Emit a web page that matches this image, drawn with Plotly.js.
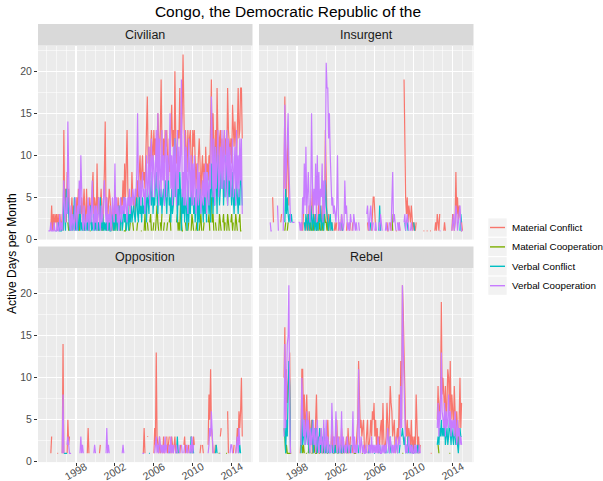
<!DOCTYPE html>
<html><head><meta charset="utf-8">
<script src="https://cdn.plot.ly/plotly-3.0.1.min.js"></script>
<style>html,body{margin:0;padding:0;background:#fff}#chart{width:603px;height:481px}</style>
</head><body><div id="chart"></div>
<script>
const _ = null;
const chartTitle = 'Congo, the Democratic Republic of the';
const yAxisTitle = 'Active Days per Month';
const seriesNames = ['Material Conflict', 'Material Cooperation', 'Verbal Conflict', 'Verbal Cooperation'];
const seriesColors = ['#F8766D', '#7CAE00', '#00BFC4', '#C77CFF'];
const panelNames = ['Civilian', 'Insurgent', 'Opposition', 'Rebel'];
const tickYears = [1998, 2002, 2006, 2010, 2014];
const yTicks = [0, 5, 10, 15, 20];
const firstYear = 1995; // one row per year, Jan..Dec; last row = Jan, Feb 2015

// ---------- Civilian ----------
const civilianMatConflict = [
[_,_,_,_,_,1,4,1,3,1,3,2],
[3,1,3,1,3,2,1,3,1,13,3,6],
[2,8,4,6,2,1,3,5,2,4,1,3],
[2,5,3,6,1,4,3,5,2,4,6,3],
[2,6,3,4,1,5,3,4,6,8,3,5],
[4,2,9,3,5,2,4,6,3,1,5,8],
[14,3,5,2,4,6,5,3,1,4,1,3],
[5,2,4,3,5,2,4,3,5,4,7,3],
[9,5,11,13,6,4,5,3,4,8,5,4],
[5,3,6,4,7,5,8,10,6,9,10,7],
[8,6,10,13,17,9,11,8,12,13,11,9],
[13,10,12,9,11,15,12,9,13,19,11,8],
[12,9,13,11,13,10,6,12,8,13,16,11],
[13,10,20,12,9,11,13,12,18,10,13,15],
[22,12,9,13,11,8,13,10,12,13,9,7],
[13,11,13,8,6,9,7,10,12,9,5,8],
[10,6,9,4,11,8,9,7,10,8,12,19],
[9,15,11,8,13,9,18,10,7,12,13,9],
[12,8,11,13,10,12,9,18,13,11,10,12],
[9,16,13,11,14,12,10,13,18,12,13,18],
[18,12]];
const civilianMatCoop = [
[_,_,_,_,_,_,_,_,_,_,_,_],
[_,_,_,_,_,_,_,_,_,_,_,_],
[_,_,2,1,_,_,_,_,_,_,_,_],
[_,_,_,_,1,2,_,_,_,2,1,_],
[_,_,_,_,_,1,1,_,_,_,_,_],
[_,_,_,2,1,_,_,_,1,2,_,_],
[_,_,1,2,_,2,1,_,_,_,_,_],
[1,2,3,1,_,_,2,1,_,_,_,1],
[1,1,2,_,_,_,1,2,_,_,2,1],
[_,_,_,1,2,_,_,_,1,1,_,_],
[1,3,1,_,2,1,_,2,3,1,_,1],
[2,_,1,3,4,2,1,_,2,1,3,_],
[1,2,_,_,1,2,_,2,3,1,_,_],
[_,1,_,_,2,3,1,2,1,5,2,1],
[1,_,_,2,1,_,1,2,_,_,1,3],
[2,1,_,_,1,2,1,_,1,2,3,1],
[_,1,2,_,1,_,_,2,3,1,_,5],
[2,3,1,_,2,1,_,_,1,3,2,1],
[_,2,3,1,2,_,1,3,2,1,_,2],
[3,1,2,_,1,3,2,1,_,2,3,1],
[1,_]];
const civilianVerbConflict = [
[_,_,_,_,_,_,_,_,1,_,_,1],
[1,_,1,2,1,1,1,2,1,5,2,1],
[6,3,5,2,1,2,1,3,1,2,5,1],
[2,1,3,1,2,4,1,2,1,3,1,2],
[1,2,1,3,1,2,4,1,2,1,3,1],
[2,1,3,1,2,1,5,2,1,3,1,2],
[1,2,1,3,1,2,1,1,2,3,1,2],
[1,3,2,1,2,4,1,2,3,1,2,5],
[2,3,1,2,4,1,3,2,5,2,3,4],
[3,2,4,5,3,2,6,3,4,2,5,3],
[4,3,5,2,6,4,3,7,5,4,8,3],
[5,4,6,8,5,3,7,5,4,6,3,5],
[6,4,7,5,3,6,8,4,5,2,6,3],
[4,6,12,5,7,2,6,4,8,5,1,6],
[3,5,2,6,4,1,7,2,5,3,6,4],
[6,3,5,2,4,6,1,5,2,6,3,5],
[4,2,6,3,5,2,8,4,3,6,2,9],
[5,3,7,4,11,8,3,10,7,4,6,9],
[6,9,4,7,5,10,6,4,8,5,7,6],
[4,8,5,3,6,4,7,5,3,6,4,9],
[5,4]];
const civilianVerbCoop = [
[_,_,1,1,1,2,1,1,1,2,1,1],
[1,2,1,1,3,1,2,1,4,7,3,2],
[5,3,14,6,2,1,4,1,3,2,1,5],
[2,1,4,3,7,3,10,5,2,1,4,2],
[1,3,2,5,1,4,2,3,7,2,1,4],
[2,4,1,3,5,2,1,4,2,3,5,7],
[4,2,5,1,3,2,4,1,2,5,3,2],
[9,3,5,2,4,1,3,5,2,4,3,5],
[3,5,4,2,5,4,6,3,5,4,6,5],
[4,6,5,8,15,6,5,7,4,6,8,5],
[6,3,8,10,5,6,11,4,9,12,5,10],
[9,5,8,13,6,15,4,12,8,5,13,7],
[10,4,11,13,5,10,7,9,15,6,10,4],
[11,5,12,7,4,13,6,11,8,10,19,5],
[8,4,13,4,11,7,3,12,6,5,10,4],
[9,4,10,6,3,5,9,4,8,6,3,5],
[7,4,8,5,9,3,8,6,4,9,6,17],
[10,5,12,4,11,6,9,13,5,8,11,6],
[13,6,12,13,5,9,13,4,12,7,11,5],
[8,12,5,9,11,4,13,6,10,5,12,7],
[12,3]];

// ---------- Insurgent ----------
const insurgentMatConflict = [
[_,_,_,_,_,_,5,2,_,_,_,_],
[_,_,_,_,2,3,_,_,6,17,8,5],
[10,12,4,_,1,_,_,_,_,_,_,_],
[_,_,_,_,_,1,2,1,3,_,2,1],
[2,3,1,4,_,2,3,6,2,1,3,2],
[3,1,2,5,3,_,2,4,1,2,3,13],
[4,2,1,3,2,1,_,2,1,_,1,2],
[1,2,_,1,2,_,1,3,1,_,2,_],
[_,1,2,_,_,1,2,_,1,2,_,_],
[_,_,_,_,_,_,_,_,_,_,_,_],
[_,_,_,2,1,_,2,_,1,3,5,5],
[2,1,_,2,_,_,_,_,_,1,_,_],
[_,_,_,2,1,1,_,2,1,_,_,_],
[_,_,1,1,_,_,2,1,_,_,2,_],
[19,6,5,3,5,2,4,3,2,4,2,1],
[2,1,1,2,_,1,_,_,1,_,_,_],
[1,1,_,_,1,1,_,_,1,1,_,_],
[_,_,1,2,1,3,2,1,3,_,_,_],
[_,1,2,1,_,_,_,_,_,_,_,1],
[3,2,1,2,8,3,5,2,4,3,2,2],
[1,_]];
const insurgentMatCoop = [
[_,_,_,_,_,_,_,_,_,_,_,_],
[_,_,_,_,_,_,_,_,_,1,2,_],
[1,2,_,_,_,_,_,_,_,_,_,_],
[_,_,_,_,_,_,_,_,_,_,_,_],
[_,_,_,_,1,2,1,_,1,2,_,_],
[1,2,_,1,2,1,_,2,1,2,3,2],
[2,1,2,1,_,_,_,_,_,_,_,_],
[_,_,_,_,_,_,_,_,_,_,_,_],
[_,_,_,_,_,_,_,_,_,_,_,_],
[_,_,_,_,_,_,_,_,_,_,_,_],
[_,_,_,_,_,_,_,_,_,_,_,_],
[_,_,_,_,_,_,_,_,_,_,_,_],
[_,_,_,_,_,_,_,_,_,3,1,_],
[_,_,_,_,_,_,_,_,_,_,_,_],
[_,_,_,_,_,_,_,_,_,_,_,_],
[_,_,_,_,_,_,_,_,_,_,_,_],
[_,_,_,_,_,_,_,_,_,_,_,_],
[_,_,_,_,_,_,_,_,_,_,_,_],
[_,_,_,_,_,_,_,_,_,_,_,_],
[_,_,_,_,_,_,_,_,_,_,1,1],
[_,_]];
const insurgentVerbConflict = [
[_,_,_,_,_,_,_,_,_,_,_,_],
[_,_,_,_,_,_,_,1,_,2,6,3],
[5,3,2,3,2,3,2,_,_,_,_,_],
[_,_,_,_,_,_,_,1,_,2,1,3],
[2,1,3,2,1,4,2,1,3,2,1,3],
[1,2,1,3,2,4,1,2,3,1,5,7],
[4,3,2,1,2,3,1,2,1,_,_,1],
[_,1,_,_,1,_,_,2,1,_,_,_],
[_,_,1,_,_,_,1,_,_,_,_,_],
[_,_,_,_,_,_,_,_,_,_,_,_],
[_,_,_,_,_,_,1,2,_,_,_,_],
[_,_,_,_,_,1,4,1,_,_,_,_],
[_,_,_,_,_,_,_,_,_,_,_,_],
[_,_,_,_,_,_,_,_,1,_,_,_],
[_,2,1,_,2,1,_,1,_,_,2,_],
[2,1,_,_,_,_,_,_,_,_,_,_],
[_,_,_,_,_,_,_,_,_,_,_,_],
[_,_,_,_,_,_,_,_,_,_,_,_],
[_,_,_,_,_,_,_,_,_,_,_,_],
[_,_,_,_,_,1,_,2,_,1,3,2],
[_,_]];
const insurgentVerbCoop = [
[_,_,_,2,1,1,_,_,_,_,_,_],
[4,1,_,_,_,_,_,1,8,16,6,10],
[14,15,9,3,2,_,2,2,2,2,_,_],
[_,_,2,2,1,2,1,5,3,9,4,11],
[3,6,8,4,2,5,15,7,3,6,4,9],
[2,10,4,8,3,6,5,9,2,7,3,9],
[21,18,18,12,15,10,6,4,5,3,4,3],
[2,4,10,3,1,2,1,3,2,1,2,7],
[3,4,2,1,2,1,3,2,_,1,3,2],
[1,2,1,_,2,1,_,_,_,_,_,_],
[_,_,3,4,2,1,3,4,2,1,2,_],
[1,2,1,_,_,2,1,3,2,1,_,_],
[_,1,2,1,_,1,2,_,1,4,8,2],
[3,2,1,_,2,1,2,1,_,1,_,_],
[2,3,1,2,3,2,1,_,1,2,1,_],
[1,_,1,_,_,_,_,_,_,_,_,_],
[_,_,_,_,_,_,_,_,_,_,_,_],
[_,_,_,_,_,_,_,_,1,1,_,_],
[_,_,_,_,_,_,_,_,_,_,_,1],
[2,3,1,2,4,3,1,2,3,4,2,1],
[1,_]];

// ---------- Opposition ----------
const oppositionMatConflict = [
[_,_,_,_,_,1,3,_,_,_,_,_],
[_,1,1,_,_,_,_,1,14,1,_,_],
[_,1,5,2,3,_,_,_,_,_,_,_],
[_,_,_,_,_,_,_,_,_,_,_,_],
[_,_,1,4,1,_,_,_,_,_,_,_],
[_,_,_,_,_,1,2,_,_,_,_,_],
[_,_,_,_,_,_,_,_,_,_,_,_],
[_,_,_,_,_,_,_,_,_,_,_,_],
[_,_,_,_,_,_,_,_,_,_,_,_],
[_,_,_,_,_,_,_,_,_,_,_,1],
[4,1,_,_,3,3,_,_,_,_,_,_],
[1,4,2,13,3,2,1,3,1,2,_,1],
[3,1,2,_,3,1,2,3,_,1,3,2],
[1,2,3,1,_,2,1,_,1,2,_,_],
[_,2,3,1,2,_,1,2,_,_,3,2],
[1,3,2,_,2,_,_,_,_,1,2,_],
[2,1,_,_,_,_,_,2,8,5,11,4],
[3,1,_,1,2,_,_,_,1,_,3,4],
[_,_,_,_,_,1,_,6,1,_,_,_],
[1,_,1,2,_,1,2,4,2,6,4,6],
[10,3]];
const oppositionMatCoop = [
[_,_,_,_,_,_,_,_,_,_,_,_],
[_,_,_,_,_,_,_,_,_,_,_,_],
[_,_,_,_,_,_,_,_,_,_,_,_],
[_,_,_,_,_,_,_,_,_,_,_,_],
[_,_,_,_,_,_,_,_,_,_,_,_],
[_,_,_,_,_,_,_,_,_,_,_,_],
[_,_,_,_,_,_,_,_,_,_,_,_],
[_,_,_,_,_,_,_,_,_,_,_,_],
[_,_,_,_,_,_,_,_,_,_,_,_],
[_,_,_,_,_,_,_,_,_,_,_,_],
[_,_,_,_,_,_,_,_,_,_,_,_],
[_,_,_,_,_,_,_,_,_,_,_,_],
[_,_,_,_,_,_,_,_,_,_,_,_],
[_,_,_,_,_,_,_,_,_,_,_,_],
[_,_,_,_,_,_,_,_,_,_,_,_],
[_,_,_,_,_,_,_,_,_,_,_,_],
[_,_,_,_,_,_,_,_,_,_,_,_],
[_,_,_,_,_,_,_,_,1,1,_,_],
[_,_,_,_,_,1,1,_,_,_,_,_],
[_,_,_,_,_,_,_,_,_,_,_,_],
[_,_]];
const oppositionVerbConflict = [
[_,_,_,_,_,_,_,_,_,_,_,_],
[_,_,_,_,_,_,_,_,_,1,1,1],
[1,1,_,_,_,_,_,_,_,_,_,_],
[_,_,_,_,_,_,_,_,_,_,_,_],
[_,_,_,_,_,_,_,_,_,_,_,_],
[_,_,_,_,_,_,_,_,_,_,_,_],
[_,_,_,_,_,_,_,_,_,_,_,_],
[_,_,_,_,_,_,_,_,_,_,_,_],
[_,_,_,_,_,_,_,_,_,_,_,_],
[_,_,_,_,_,_,_,_,_,_,_,_],
[_,_,_,_,_,_,1,1,_,_,_,_],
[_,_,_,_,_,_,_,_,_,_,_,_],
[_,_,_,_,_,_,_,1,2,_,_,_],
[_,_,_,_,1,3,1,_,_,_,_,_],
[_,_,_,_,_,_,_,_,_,1,3,1],
[2,1,_,_,_,_,_,_,_,_,_,_],
[_,_,_,_,_,_,_,_,_,_,_,_],
[_,_,_,_,1,2,1,_,_,_,_,_],
[_,_,_,_,_,_,_,_,_,_,_,_],
[_,_,_,_,_,_,_,_,_,1,2,1],
[_,_]];
const oppositionVerbCoop = [
[_,_,_,_,_,_,_,_,_,_,_,_],
[_,_,_,_,_,_,_,1,8,1,_,_],
[_,2,3,2,1,1,1,_,_,_,_,_],
[_,_,_,_,_,1,3,1,2,1,_,_],
[_,_,_,_,_,_,_,_,_,_,1,2],
[1,_,_,_,_,_,_,_,_,_,_,_],
[_,1,4,1,2,1,_,_,_,_,_,_],
[_,_,_,_,_,_,_,_,_,1,2,1],
[_,_,_,_,_,_,_,_,_,_,_,_],
[_,_,_,_,_,_,_,_,_,_,1,1],
[1,_,_,_,_,_,_,_,_,_,_,_],
[_,1,2,3,1,2,1,3,2,1,2,1],
[2,1,3,1,2,_,1,2,1,3,1,2],
[1,2,_,1,2,1,_,2,1,_,2,1],
[_,1,2,_,1,2,1,_,1,2,1,3],
[1,2,_,_,1,_,_,_,_,_,1,_],
[_,_,_,_,_,_,_,1,2,4,3,6],
[2,1,_,1,_,_,_,_,_,1,1,_],
[_,_,_,_,_,_,_,_,_,_,1,2],
[2,1,_,_,_,1,2,3,1,4,2,_],
[_,_]];

// ---------- Rebel ----------
const rebelMatConflict = [
[_,_,_,_,_,_,_,_,_,_,_,_],
[_,_,_,_,_,_,_,_,10,16,4,11],
[7,10,12,13,1,1,_,_,_,_,_,_],
[_,_,_,_,1,3,11,11,5,8,3,7],
[8,4,2,6,3,2,5,1,3,4,2,5],
[8,3,2,1,4,2,3,1,2,3,1,_],
[1,3,5,2,1,_,2,4,1,3,1,2],
[1,5,2,1,3,_,1,4,2,1,2,1],
[2,3,1,4,2,1,3,_,2,1,_,1],
[1,2,3,5,12,6,4,5,3,4,5,2],
[1,2,4,5,1,2,3,5,3,6,5,7],
[3,5,2,4,1,3,2,4,5,2,7,3],
[1,2,3,7,4,2,5,9,7,6,3,4],
[5,1,2,3,4,2,8,4,12,5,21,18],
[13,5,4,3,5,2,4,3,2,5,1,3],
[1,3,2,8,5,1,3,1,2,_,_,_],
[_,_,_,_,_,_,_,_,_,1,1,_],
[_,_,_,_,_,5,9,5,7,8,19,8],
[10,8,6,9,5,7,11,10,6,12,5,8],
[6,4,9,5,3,6,4,2,5,10,4,7],
[_,_]];
const rebelMatCoop = [
[_,_,_,_,_,_,_,_,_,_,_,_],
[_,_,_,_,_,_,_,_,4,3,1,2],
[1,1,1,1,1,_,_,_,_,_,_,_],
[_,_,_,_,_,_,2,1,2,1,_,1],
[1,_,1,2,1,_,1,1,_,1,2,1],
[1,2,_,1,1,_,_,1,2,1,_,_],
[_,1,1,_,_,_,_,_,_,1,1,_],
[_,_,1,1,_,_,_,1,1,_,_,_],
[_,1,2,1,_,_,_,_,_,_,1,1],
[1,1,_,_,_,_,_,_,1,1,_,_],
[_,_,_,_,_,_,_,_,_,_,_,_],
[_,_,_,_,_,_,_,_,_,_,_,_],
[_,_,_,_,_,_,_,_,_,_,_,_],
[_,_,_,_,_,_,_,_,_,_,1,1],
[_,_,_,_,_,_,_,_,_,_,_,_],
[_,_,_,_,_,_,_,_,_,_,_,_],
[_,_,_,_,_,_,_,_,_,_,_,_],
[_,_,_,_,_,_,2,1,_,_,_,_],
[_,_,_,_,_,_,_,_,1,1,_,_],
[_,_,_,_,_,_,_,_,_,_,_,_],
[_,_]];
const rebelVerbConflict = [
[_,_,_,_,_,_,_,_,_,_,_,_],
[_,_,_,_,_,_,_,_,_,4,1,5],
[3,8,12,9,1,_,_,_,_,_,_,_],
[_,_,_,_,_,1,6,2,3,5,2,4],
[3,2,4,1,3,4,2,5,1,3,4,2],
[4,1,3,2,4,1,2,3,1,4,2,1],
[2,1,_,1,2,1,_,2,1,_,1,2],
[1,_,2,1,_,1,2,1,_,2,1,_],
[1,_,2,1,_,_,1,2,_,1,_,1],
[_,1,_,2,1,_,1,_,1,_,_,1],
[_,1,_,_,1,2,1,_,_,1,_,1],
[1,_,1,_,_,1,2,1,_,_,1,_],
[_,1,2,1,_,2,1,3,1,_,1,_],
[_,1,_,2,1,_,1,2,_,3,4,3],
[2,3,1,2,1,3,1,2,1,2,1,_],
[1,2,1,_,1,2,1,_,_,_,_,_],
[_,_,_,_,_,_,_,_,_,_,_,_],
[_,_,_,_,_,2,3,2,4,3,5,3],
[4,3,5,2,3,4,2,3,5,3,2,4],
[3,2,4,3,2,3,2,1,3,4,3,3],
[_,_]];
const rebelVerbCoop = [
[_,_,_,_,_,_,_,_,_,_,_,_],
[_,_,_,_,_,_,_,_,3,14,4,11],
[14,15,21,6,1,_,_,_,_,_,_,_],
[_,_,_,_,_,2,10,6,3,5,2,4],
[6,2,5,3,1,4,2,3,5,2,4,1],
[3,5,2,1,3,2,4,1,2,5,1,2],
[5,1,3,2,1,2,1,7,2,1,3,2],
[6,2,1,3,2,1,2,6,1,3,2,1],
[2,1,3,2,1,2,_,1,2,6,1,3],
[1,2,1,3,11,2,1,3,2,1,2,1],
[1,2,1,_,2,1,2,1,3,1,2,1],
[2,1,2,1,3,1,2,1,1,2,1,2],
[1,2,1,3,4,2,1,3,2,1,2,1],
[2,1,3,2,1,2,3,2,9,4,21,14],
[8,2,1,2,1,2,3,1,2,1,2,1],
[1,2,1,2,1,_,1,2,1,_,_,_],
[_,_,_,_,_,_,_,_,_,_,_,_],
[_,_,_,_,_,4,7,3,6,5,13,6],
[5,4,7,3,6,4,5,8,4,6,3,5],
[4,5,3,6,4,2,5,3,4,2,3,2],
[_,_]];

const panelData = [
  [civilianMatConflict, civilianMatCoop, civilianVerbConflict, civilianVerbCoop],
  [insurgentMatConflict, insurgentMatCoop, insurgentVerbConflict, insurgentVerbCoop],
  [oppositionMatConflict, oppositionMatCoop, oppositionVerbConflict, oppositionVerbCoop],
  [rebelMatConflict, rebelMatCoop, rebelVerbConflict, rebelVerbCoop]
];

// ---------- build ----------
function flatten(rows) {
  const out = [];
  rows.forEach((r, yi) => {
    const n = (yi === rows.length - 1) ? r.length : 12;
    for (let k = 0; k < n; k++) out.push(r[k] === undefined ? null : r[k]);
  });
  return out;
}
function monthDates(count) {
  const d = [];
  for (let i = 0; i < count; i++) {
    const y = firstYear + Math.floor(i / 12), m = (i % 12) + 1;
    d.push(y + '-' + (m < 10 ? '0' + m : m) + '-01');
  }
  return d;
}

const W = 603, H = 481;
const px = v => v / W, py = v => 1 - v / H;
const FONT = 'Liberation Sans, Arial, Helvetica, sans-serif';

const colX = [[38, 252.5], [259, 473.5]];
const rowY = [[45.6, 239.6], [268.1, 462.1]];
const stripY = [[24, 45.6], [246.5, 268.1]];

const traces = [];
panelData.forEach((series, p) => {
  const suf = p === 0 ? '' : String(p + 1);
  series.forEach((rows, s) => {
    const y = flatten(rows);
    traces.push({
      type: 'scatter', mode: 'lines', x: monthDates(y.length), y: y,
      xaxis: 'x' + suf, yaxis: 'y' + suf, name: seriesNames[s],
      line: { color: seriesColors[s], width: 1.2 }, connectgaps: false,
      showlegend: false, hoverinfo: 'skip'
    });
  });
});

const layout = {
  width: W, height: H, margin: { l: 0, r: 0, t: 0, b: 0 },
  paper_bgcolor: '#FFFFFF', plot_bgcolor: '#EBEBEB',
  font: { family: FONT, color: '#000000' },
  title: { text: chartTitle, x: px(288), xanchor: 'center', y: py(12), yanchor: 'middle',
           font: { size: 15.5, family: FONT, color: '#000000' } },
  shapes: [], annotations: []
};

for (let p = 0; p < 4; p++) {
  const col = p % 2, row = Math.floor(p / 2);
  const suf = p === 0 ? '' : String(p + 1);
  layout['xaxis' + suf] = {
    type: 'date', domain: [px(colX[col][0]), px(colX[col][1])],
    range: ['1994-02-04', '2016-02-21'],
    tickmode: 'linear', tick0: '1998-01-01', dtick: 'M48',
    showgrid: true, gridcolor: '#FFFFFF', gridwidth: 1.1,
    minor: { tickmode: 'linear', tick0: '1994-01-01', dtick: 'M12', showgrid: true, gridcolor: '#FFFFFF', gridwidth: 0.55, ticks: '' },
    zeroline: false, showline: false, showticklabels: false,
    ticks: row === 1 ? 'outside' : '', ticklen: 3, tickwidth: 1, tickcolor: '#333333',
    anchor: 'y' + suf, fixedrange: true
  };
  layout['yaxis' + suf] = {
    domain: [py(rowY[row][1]), py(rowY[row][0])],
    range: [-0.05, 23.05],
    tickmode: 'array', tickvals: yTicks, ticktext: yTicks.map(String),
    showgrid: true, gridcolor: '#FFFFFF', gridwidth: 1.1,
    minor: { tickmode: 'linear', tick0: 0, dtick: 2.5, showgrid: true, gridcolor: '#FFFFFF', gridwidth: 0.55, ticks: '' },
    zeroline: false, showline: false,
    showticklabels: col === 0, ticks: col === 0 ? 'outside' : '', ticklen: 3, tickwidth: 1, tickcolor: '#333333',
    tickfont: { size: 10.5, color: '#4D4D4D', family: FONT },
    anchor: 'x' + suf, fixedrange: true
  };
  // strip
  layout.shapes.push({ type: 'rect', xref: 'paper', yref: 'paper', layer: 'below',
    x0: px(colX[col][0]), x1: px(colX[col][1]), y0: py(stripY[row][1]), y1: py(stripY[row][0]),
    fillcolor: '#D9D9D9', line: { width: 0 } });
  layout.annotations.push({ xref: 'paper', yref: 'paper', showarrow: false,
    x: px((colX[col][0] + colX[col][1]) / 2), y: py((stripY[row][0] + stripY[row][1]) / 2),
    xanchor: 'center', yanchor: 'middle', text: panelNames[p],
    font: { size: 12.5, color: '#1A1A1A', family: FONT } });
  // rotated x tick labels for bottom row
  if (row === 1) {
    tickYears.forEach(yr => {
      layout.annotations.push({ xref: 'x' + suf, yref: 'paper', showarrow: false,
        x: yr + '-01-01', y: py(471), xanchor: 'center', yanchor: 'middle',
        text: String(yr), textangle: -30,
        font: { size: 10.5, color: '#4D4D4D', family: FONT } });
    });
  }
}

// y-axis title
layout.annotations.push({ xref: 'paper', yref: 'paper', showarrow: false,
  x: px(12), y: py(254), xanchor: 'center', yanchor: 'middle', textangle: -90,
  text: yAxisTitle, font: { size: 12, color: '#000000', family: FONT } });

// legend (ggplot-style keys)
seriesNames.forEach((name, s) => {
  const cy = 227.5 + s * 19.4;
  layout.shapes.push({ type: 'rect', xref: 'paper', yref: 'paper',
    x0: px(488.3), x1: px(506.7), y0: py(cy + 9.1), y1: py(cy - 9.1),
    fillcolor: '#F2F2F2', line: { width: 0 } });
  layout.shapes.push({ type: 'line', xref: 'paper', yref: 'paper',
    x0: px(490), x1: px(505), y0: py(cy), y1: py(cy),
    line: { color: seriesColors[s], width: 1.4 } });
  layout.annotations.push({ xref: 'paper', yref: 'paper', showarrow: false,
    x: px(510), y: py(cy), xanchor: 'left', yanchor: 'middle', text: name,
    font: { size: 9.8, color: '#000000', family: FONT } });
});

Plotly.newPlot('chart', traces, layout, { displayModeBar: false, staticPlot: true });
</script>
</body></html>
